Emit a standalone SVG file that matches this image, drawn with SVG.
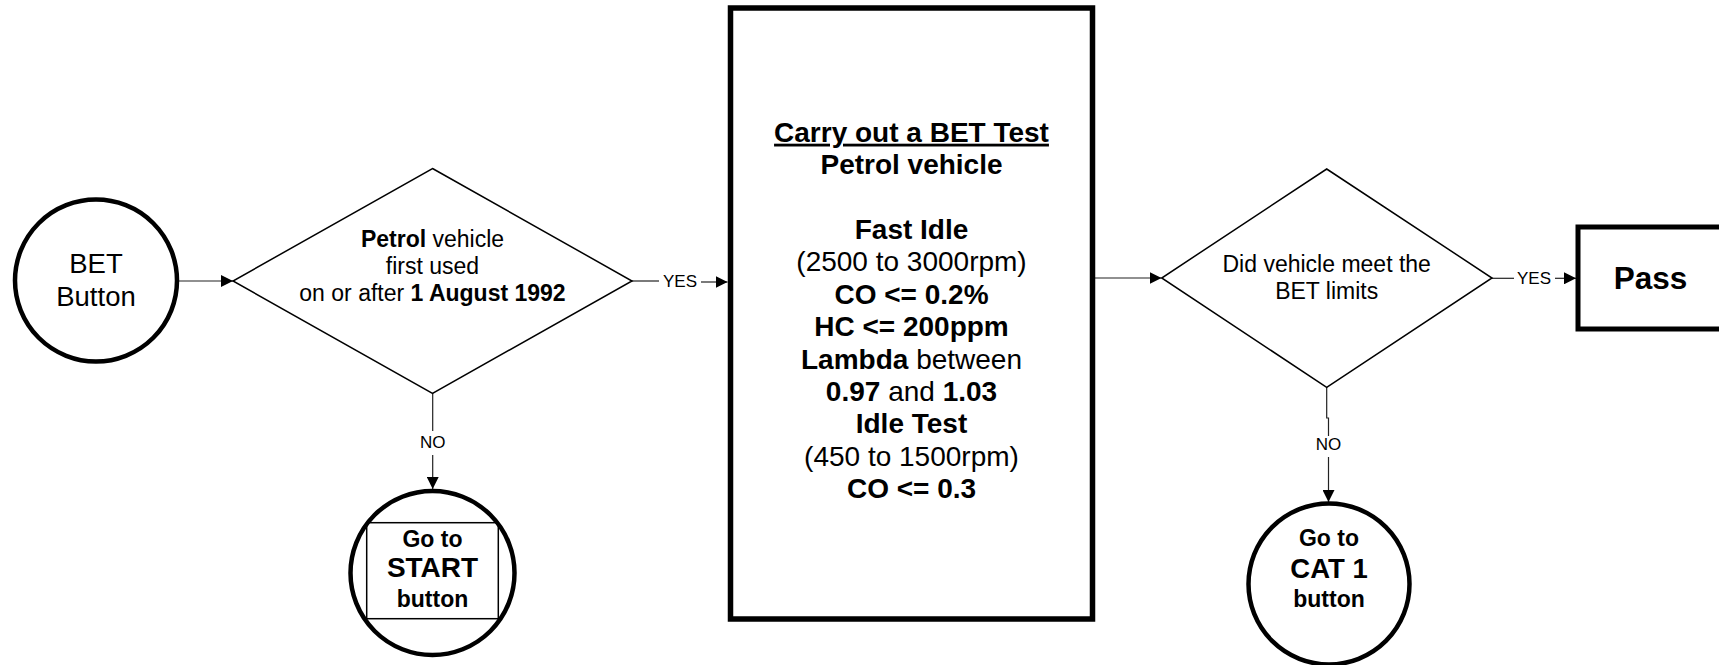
<svg xmlns="http://www.w3.org/2000/svg" width="1719" height="665" viewBox="0 0 1719 665">
<style>
text{font-family:"Liberation Sans",Arial,sans-serif;fill:#000;text-anchor:middle}
.b{font-weight:bold}
.shape{fill:#fff;stroke:#000}
.thick{stroke-width:5}
.dia{stroke-width:1.5}
.conn{fill:none;stroke:#222;stroke-width:1.2}
.lbl{font-size:17px}
</style>
<defs>
<marker id="arr" markerUnits="userSpaceOnUse" markerWidth="13" markerHeight="12" refX="12" refY="6" orient="auto">
<path d="M0,0 L12,6 L0,12 z" fill="#000"/>
</marker>
</defs>
<rect width="1719" height="665" fill="#fff"/>

<g id="connectors">
<path class="conn" d="M179,281 H233" marker-end="url(#arr)"/>
<path class="conn" d="M632,281 H659"/>
<path class="conn" d="M701,282 H727.5" marker-end="url(#arr)"/>
<text class="lbl" x="680" y="287">YES</text>
<path class="conn" d="M432.7,393 V431"/>
<path class="conn" d="M432.7,455 V489" marker-end="url(#arr)"/>
<text class="lbl" x="432.7" y="448">NO</text>
<path class="conn" d="M1093,278 H1161.5" marker-end="url(#arr)"/>
<path class="conn" d="M1492,278.3 H1514"/>
<path class="conn" d="M1555,278.3 H1576" marker-end="url(#arr)"/>
<text class="lbl" x="1534" y="284">YES</text>
<path class="conn" d="M1326.7,387 V418 H1328.5 V436"/>
<path class="conn" d="M1328.5,457 V502" marker-end="url(#arr)"/>
<text class="lbl" x="1328.5" y="450">NO</text>
</g>

<g id="bet-button">
<circle class="shape" cx="96" cy="280.5" r="81" stroke-width="4.5"/>
<text x="96" y="273" font-size="27.5">BET</text>
<text x="96" y="306" font-size="27.5">Button</text>
</g>

<g id="decision-petrol">
<polygon class="shape dia" points="432.5,168.5 632,281 432.5,393.3 233,281"/>
<text x="432.5" y="247" font-size="23"><tspan class="b">Petrol</tspan> vehicle</text>
<text x="432.5" y="274" font-size="23">first used</text>
<text x="432.5" y="301" font-size="23">on or after <tspan class="b">1 August 1992</tspan></text>
</g>

<g id="go-start">
<circle class="shape" cx="432.5" cy="573" r="82" stroke-width="4.5"/>
<rect x="366.7" y="522.7" width="131.6" height="96" fill="none" stroke="#000" stroke-width="1.5"/>
<text class="b" x="432.5" y="547" font-size="23">Go to</text>
<text class="b" x="432.5" y="577" font-size="28">START</text>
<text class="b" x="432.5" y="607" font-size="23">button</text>
</g>

<g id="bet-test">
<rect class="shape" x="730.5" y="8" width="362" height="611" stroke-width="5.5"/>
<g font-size="28">
<text class="b" x="911.5" y="141.7" text-decoration="underline">Carry out a BET Test</text>
<text class="b" x="911.5" y="174.1">Petrol vehicle</text>
<text class="b" x="911.5" y="238.9">Fast Idle</text>
<text x="911.5" y="271.3">(2500 to 3000rpm)</text>
<text class="b" x="911.5" y="303.7">CO &lt;= 0.2%</text>
<text class="b" x="911.5" y="336.1">HC &lt;= 200ppm</text>
<text x="911.5" y="368.5"><tspan class="b">Lambda</tspan> between</text>
<text x="911.5" y="400.9"><tspan class="b">0.97</tspan> and <tspan class="b">1.03</tspan></text>
<text class="b" x="911.5" y="433.3">Idle Test</text>
<text x="911.5" y="465.7">(450 to 1500rpm)</text>
<text class="b" x="911.5" y="498.1">CO &lt;= 0.3</text>
</g>
</g>

<g id="decision-limits">
<polygon class="shape dia" points="1326.7,169 1492,278 1326.7,387.3 1161.7,278"/>
<text x="1326.7" y="272" font-size="23">Did vehicle meet the</text>
<text x="1326.7" y="298.5" font-size="23">BET limits</text>
</g>

<g id="go-cat1">
<circle class="shape" cx="1329" cy="584" r="80.5" stroke-width="4.5"/>
<text class="b" x="1329" y="546" font-size="23">Go to</text>
<text class="b" x="1329" y="578" font-size="27.5">CAT 1</text>
<text class="b" x="1329" y="607" font-size="23">button</text>
</g>

<g id="pass">
<rect class="shape" x="1578" y="227" width="150" height="102" stroke-width="5"/>
<text class="b" x="1650.5" y="288.5" font-size="31.5">Pass</text>
</g>
</svg>
